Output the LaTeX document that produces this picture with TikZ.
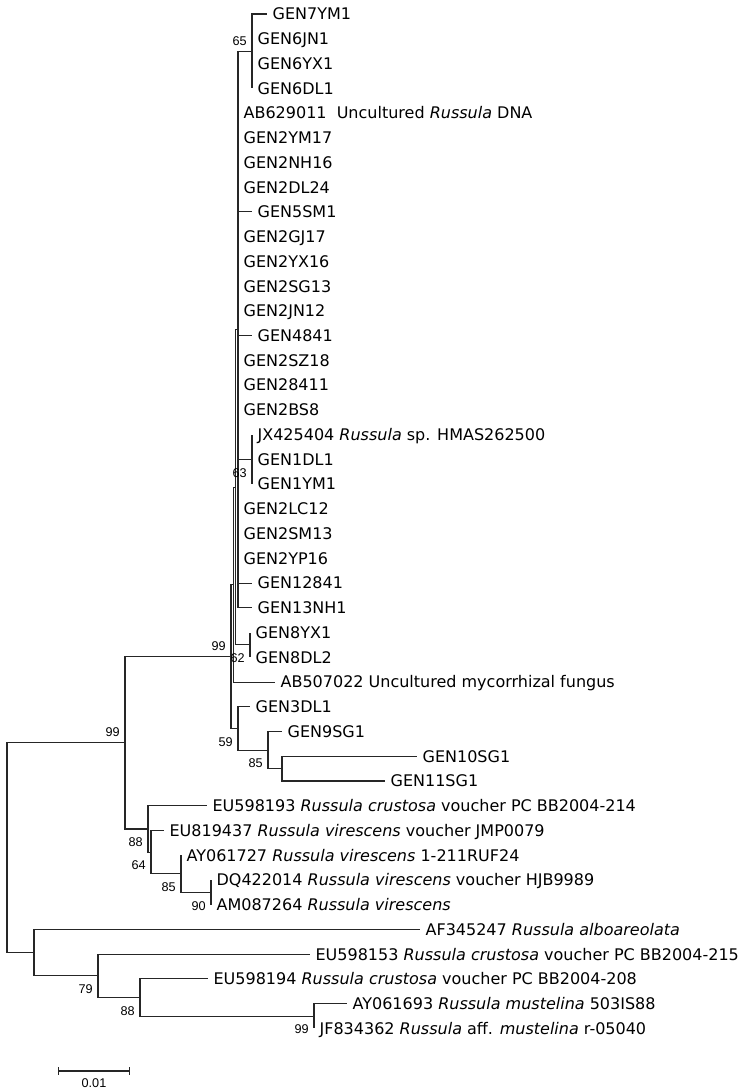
\documentclass[tikz,border=0pt]{standalone}
\usepackage{fontspec}
\setmainfont{DejaVu Sans}
\newfontfamily\bootfont{Liberation Sans}
\usepackage{tikz}
\usetikzlibrary{arrows.meta}

\tikzset{
	branch/.style={draw=black!85, line width=0.8pt},
	leaf/.style={anchor=west, inner xsep=4pt, inner ysep=0pt, text height=8.8pt, text depth=0pt, font=\fontsize{12}{14}\selectfont},
	boot below/.style={anchor=north east, inner sep=0pt, text height=6.8pt, text depth=0pt, xshift=-3.8pt, yshift=-6.3pt, font=\bootfont\fontsize{9.5}{10}\selectfont},
	boot above/.style={anchor=south east, inner sep=0pt, text height=6.8pt, text depth=0pt, xshift=-3.8pt, yshift=4.1pt, font=\bootfont\fontsize{9.5}{10}\selectfont}
}

\begin{document}
\begin{tikzpicture}[x=0.75pt, y=-18.555pt]
	\useasboundingbox (0,-0.566) rectangle (747,43.57);

	%% Internal nodes -- x is the distance, y is the row
	\coordinate (root) at (7,33.69);
	\coordinate (nA) at (125,29.45);
	\coordinate (nJ) at (231,25.97);
	\coordinate (nN) at (233.5,23.06);
	\coordinate (nS) at (235.5,19.125);
	\coordinate (nP) at (238,12.75);	% Big polytomy
	\coordinate (n65) at (252,1.5);
	\coordinate (n63) at (252,18);
	\coordinate (n62) at (250,25.5);
	\coordinate (nK) at (238,28.875);
	\coordinate (nT) at (268,29.75);
	\coordinate (nU) at (282,30.5);
	\coordinate (nC) at (148,32.94);
	\coordinate (nD) at (151,33.875);
	\coordinate (nE) at (181,34.75);
	\coordinate (nF) at (211,35.5);
	\coordinate (nB) at (34,37.94);
	\coordinate (nG) at (98,38.875);
	\coordinate (nH) at (140,39.75);
	\coordinate (nI) at (314,40.5);

	%% Leaves -- placed at their branch tips
	\node at (267,0) [leaf] (gen7ym1) {GEN7YM1};
	\node at (252,1) [leaf] (gen6jn1) {GEN6JN1};
	\node at (252,2) [leaf] (gen6yx1) {GEN6YX1};
	\node at (252,3) [leaf] (gen6dl1) {GEN6DL1};
	\node at (238,4) [leaf] (ab629011) {AB629011\ \ Uncultured \textit{Russula} DNA};
	\node at (238,5) [leaf] (gen2ym17) {GEN2YM17};
	\node at (238,6) [leaf] (gen2nh16) {GEN2NH16};
	\node at (238,7) [leaf] (gen2dl24) {GEN2DL24};
	\node at (252,8) [leaf] (gen5sm1) {GEN5SM1};
	\node at (238,9) [leaf] (gen2gj17) {GEN2GJ17};
	\node at (238,10) [leaf] (gen2yx16) {GEN2YX16};
	\node at (238,11) [leaf] (gen2sg13) {GEN2SG13};
	\node at (238,12) [leaf] (gen2jn12) {GEN2JN12};
	\node at (252,13) [leaf] (gen4841) {GEN4841};
	\node at (238,14) [leaf] (gen2sz18) {GEN2SZ18};
	\node at (238,15) [leaf] (gen28411) {GEN28411};
	\node at (238,16) [leaf] (gen2bs8) {GEN2BS8};
	\node at (252,17) [leaf] (jx425404) {JX425404 \textit{Russula} sp. HMAS262500};
	\node at (252,18) [leaf] (gen1dl1) {GEN1DL1};
	\node at (252,19) [leaf] (gen1ym1) {GEN1YM1};
	\node at (238,20) [leaf] (gen2lc12) {GEN2LC12};
	\node at (238,21) [leaf] (gen2sm13) {GEN2SM13};
	\node at (238,22) [leaf] (gen2yp16) {GEN2YP16};
	\node at (252,23) [leaf] (gen12841) {GEN12841};
	\node at (252,24) [leaf] (gen13nh1) {GEN13NH1};
	\node at (250,25) [leaf] (gen8yx1) {GEN8YX1};
	\node at (250,26) [leaf] (gen8dl2) {GEN8DL2};
	\node at (275,27) [leaf] (ab507022) {AB507022 Uncultured mycorrhizal fungus};
	\node at (250,28) [leaf] (gen3dl1) {GEN3DL1};
	\node at (282,29) [leaf] (gen9sg1) {GEN9SG1};
	\node at (417,30) [leaf] (gen10sg1) {GEN10SG1};
	\node at (385,31) [leaf] (gen11sg1) {GEN11SG1};
	\node at (207,32) [leaf] (eu598193) {EU598193 \textit{Russula crustosa} voucher PC BB2004-214};
	\node at (164,33) [leaf] (eu819437) {EU819437 \textit{Russula virescens} voucher JMP0079};
	\node at (181,34) [leaf] (ay061727) {AY061727 \textit{Russula virescens} 1-211RUF24};
	\node at (211,35) [leaf] (dq422014) {DQ422014 \textit{Russula virescens} voucher HJB9989};
	\node at (211,36) [leaf] (am087264) {AM087264 \textit{Russula virescens}};
	\node at (420,37) [leaf] (af345247) {AF345247 \textit{Russula alboareolata}};
	\node at (310,38) [leaf] (eu598153) {EU598153 \textit{Russula crustosa} voucher PC BB2004-215};
	\node at (208,39) [leaf] (eu598194) {EU598194 \textit{Russula crustosa} voucher PC BB2004-208};
	\node at (347,40) [leaf] (ay061693) {AY061693 \textit{Russula mustelina} 503IS88};
	\node at (314,41) [leaf] (jf834362) {JF834362 \textit{Russula} aff. \textit{mustelina} r-05040};

	%% Branches -- parent |- child
	\draw [branch] (root) |- (nA) (root) |- (nB);
	\draw [branch] (nA) |- (nJ) (nA) |- (nC);
	\draw [branch] (nJ) |- (nN) (nJ) |- (nK);
	\draw [branch] (nN) |- (nS) (nN) |- (ab507022);
	\draw [branch] (nS) |- (nP) (nS) |- (n62);
	\draw [branch] (nP) |- (n65) (nP) |- (ab629011) (nP) |- (gen2ym17) (nP) |- (gen2nh16)
		(nP) |- (gen2dl24) (nP) |- (gen5sm1) (nP) |- (gen2gj17) (nP) |- (gen2yx16)
		(nP) |- (gen2sg13) (nP) |- (gen2jn12) (nP) |- (gen4841) (nP) |- (gen2sz18)
		(nP) |- (gen28411) (nP) |- (gen2bs8) (nP) |- (n63) (nP) |- (gen2lc12)
		(nP) |- (gen2sm13) (nP) |- (gen2yp16) (nP) |- (gen12841) (nP) |- (gen13nh1);
	\draw [branch] (n65) |- (gen7ym1) (n65) |- (gen6jn1) (n65) |- (gen6yx1) (n65) |- (gen6dl1);
	\draw [branch] (n63) |- (jx425404) (n63) |- (gen1dl1) (n63) |- (gen1ym1);
	\draw [branch] (n62) |- (gen8yx1) (n62) |- (gen8dl2);
	\draw [branch] (nK) |- (gen3dl1) (nK) |- (nT);
	\draw [branch] (nT) |- (gen9sg1) (nT) |- (nU);
	\draw [branch] (nU) |- (gen10sg1) (nU) |- (gen11sg1);
	\draw [branch] (nC) |- (eu598193) (nC) |- (nD);
	\draw [branch] (nD) |- (eu819437) (nD) |- (nE);
	\draw [branch] (nE) |- (ay061727) (nE) |- (nF);
	\draw [branch] (nF) |- (dq422014) (nF) |- (am087264);
	\draw [branch] (nB) |- (af345247) (nB) |- (nG);
	\draw [branch] (nG) |- (eu598153) (nG) |- (nH);
	\draw [branch] (nH) |- (eu598194) (nH) |- (nI);
	\draw [branch] (nI) |- (ay061693) (nI) |- (jf834362);

	%% Bootstrap values
	\node at (n65) [boot above] (b65) {65};
	\node at (n63) [boot below] (b63) {63};
	\node at (n62) [boot below] (b62) {62};
	\node at (nJ) [boot above] (bJ) {99};
	\node at (nK) [boot below] (bK) {59};
	\node at (nT) [boot below] (bT) {85};
	\node at (nA) [boot above] (bA) {99};
	\node at (nC) [boot below] (bC) {88};
	\node at (nD) [boot below] (bD) {64};
	\node at (nE) [boot below] (bE) {85};
	\node at (nF) [boot below] (bF) {90};
	\node at (nG) [boot below] (bG) {79};
	\node at (nH) [boot below] (bH) {88};
	\node at (nI) [boot below] (bI) {99};

	%% Scale bar
	\coordinate (sbl) at (58,42.72);
	\coordinate (sbr) at (130,42.72);
	\draw [branch, {Bar[width=5.5pt]}-{Bar[width=5.5pt]}] (sbl) -- (sbr);
	\node at (94,43.21) [inner sep=0pt, font=\bootfont\fontsize{9.5}{10}\selectfont] (sblabel) {0.01};
\end{tikzpicture}
\end{document}
